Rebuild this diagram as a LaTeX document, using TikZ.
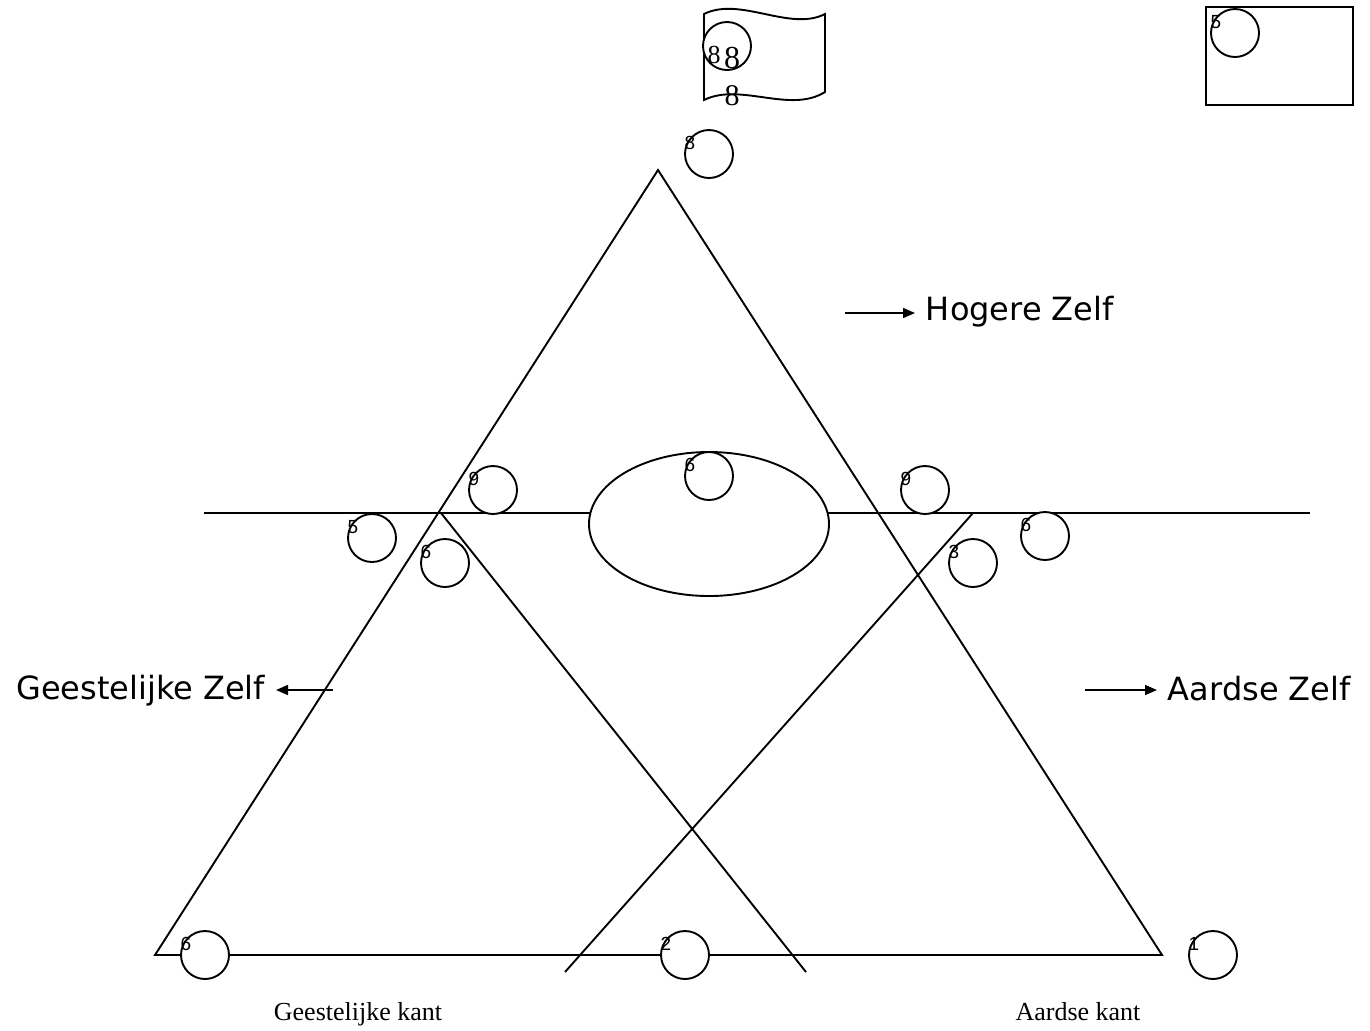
\documentclass[tikz,border=0pt]{standalone}
\usepackage{fontspec}
\setmainfont{Liberation Serif}
\newfontfamily\zelffont{DejaVu Sans}
\newfontfamily\numfont{Liberation Sans}
\usetikzlibrary{positioning,arrows.meta,calc,shapes.geometric}
\tikzset{
  fig/.style={line width=0.95pt},
  ring/.style={draw,circle,fill=white,minimum size=24pt,inner sep=0pt},
  num/.style={font=\numfont\fontsize{9.5}{10}\selectfont,inner sep=0pt},
  zelf/.style={font=\zelffont\fontsize{16}{18}\selectfont,inner sep=5pt},
  kant/.style={font=\fontsize{13}{15}\selectfont,inner sep=1pt},
  ln/.style={-{Triangle[length=6pt,width=5pt]},line width=0.8pt},
}
\begin{document}
\begin{tikzpicture}[fig,x=0.5pt,y=-0.5pt,
  eye/.style={draw,ellipse,fill=white,minimum width=120pt,minimum height=72pt,inner sep=0pt},
  acht/.style={font=\fontsize{#1}{#1}\selectfont,inner sep=0pt}]
\useasboundingbox (0,0) rectangle (1370,1030);

% main triangle and crossing lines
\coordinate (top) at (658,170);
\coordinate (bl) at (155,955);
\coordinate (br) at (1162,955);
\draw (top) -- (br) -- (bl) -- cycle;
\draw (204,513) -- (1310,513);
\draw (441,513) -- (806,972);
\draw (973,513) -- (565,972);

\node[eye] (oog) at (709,524) {};

% flag and box at the top
\draw (704,14) .. controls (740,-4) and (790,32) .. (825,14) -- (825,92)
      .. controls (790,114) and (740,82) .. (704,100) -- cycle;
\node[ring] (vlag) at (727,46) {};
\node[acht=13] at (714,55) {8};
\node[acht=16] at (732,58) {8};
\node[acht=15] at (732,96) {8};

\draw (1206,7) rectangle (1353,105);

% numbered circles
\foreach \cx/\cy/\n/\nm in {1235/33/5/kader, 709/154/8/punt, 493/490/9/lb,
    372/538/5/lm, 445/563/6/lo, 709/476/6/oogc, 925/490/9/rb, 973/563/3/ro,
    1045/536/6/rm, 205/955/6/hl, 685/955/2/hm, 1213/955/1/hr}{
  \node[ring] (\nm) at (\cx,\cy) {};
  \node[num] at ($(\nm)+(-19,-11)$) {\n};
}

% labels with arrows
\node[zelf,anchor=west] (hoger) at (915,312) {Hogere Zelf};
\coordinate (hogers) at (845,313);
\draw[ln] (hogers) -- (hoger.west |- hogers);

\node[zelf,anchor=east] (geest) at (276,691) {Geestelijke Zelf};
\coordinate (geests) at (333,690);
\draw[ln] (geests) -- (geest.east |- geests);

\node[zelf,anchor=west] (aard) at (1157,689) {Aardse Zelf};
\coordinate (aards) at (1085,690);
\draw[ln] (aards) -- (aard.west |- aards);

\node[kant,anchor=base] (gkant) at (358,1020) {Geestelijke kant};
\node[kant,anchor=base] (akant) at (1078,1020) {Aardse kant};

\end{tikzpicture}
\end{document}
